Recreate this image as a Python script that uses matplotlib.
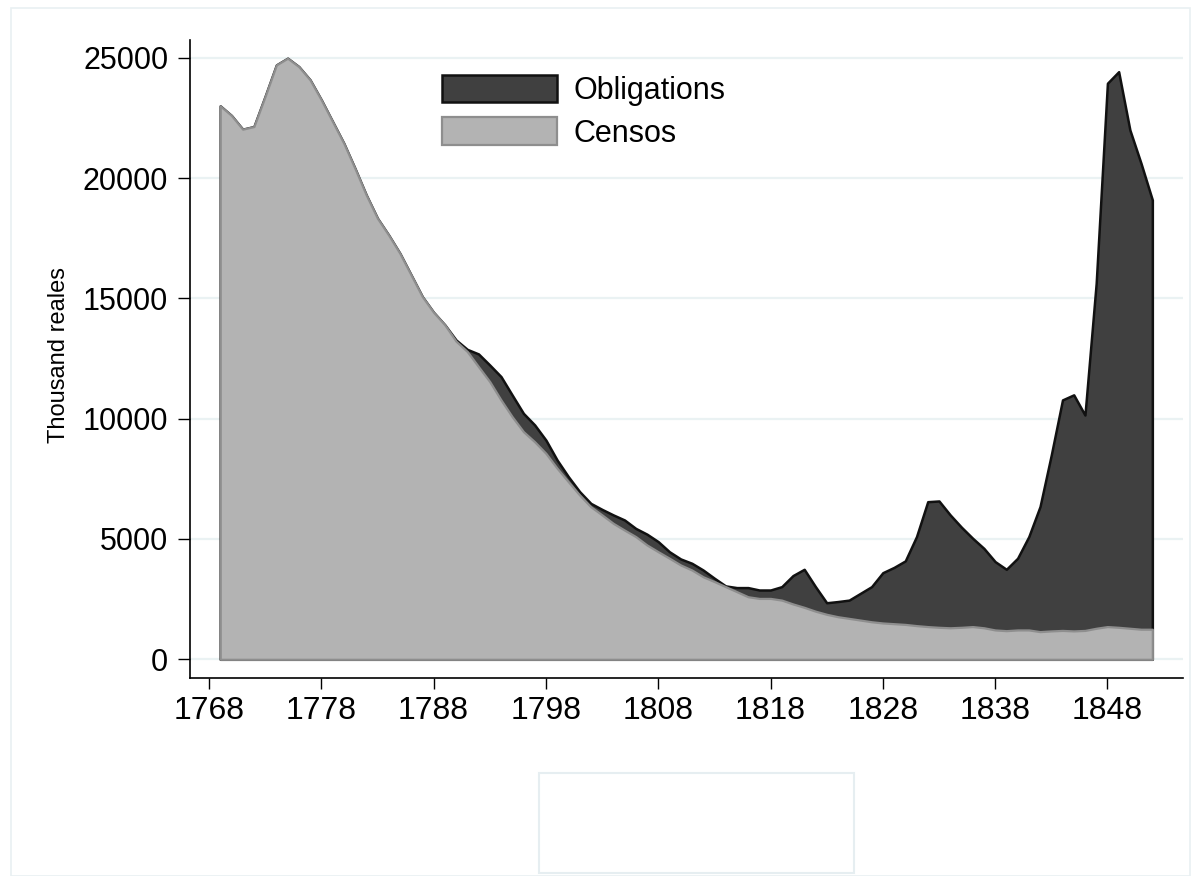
import matplotlib
matplotlib.use("Agg")
import matplotlib.pyplot as plt
from matplotlib.patches import Patch, Rectangle
import numpy as np

plt.rcParams['font.family'] = ['Liberation Sans', 'DejaVu Sans']

years = list(range(1769, 1853))

censos = [23000, 22600, 22030, 22140, 23400, 24700, 24980, 24630, 24080, 23250,
          22350, 21450, 20400, 19300, 18330, 17630, 16870, 15970, 15070, 14420,
          13900, 13220, 12790, 12160, 11540, 10780, 10080, 9460, 9040, 8560,
          7940, 7380, 6830, 6340, 6000, 5650, 5370, 5100, 4750, 4470,
          4200, 3920, 3710, 3430, 3230, 3020, 2810, 2600, 2530, 2530,
          2460, 2300, 2160, 2000, 1870, 1770, 1700, 1630, 1560, 1510,
          1480, 1450, 1400, 1360, 1330, 1310, 1330, 1360, 1310, 1220,
          1190, 1220, 1220, 1150, 1180, 1200, 1180, 1200, 1290, 1360,
          1330, 1290, 1250, 1250]

obligations = [0, 0, 0, 0, 0, 0, 0, 0, 0, 0,
               0, 0, 0, 0, 0, 0, 0, 0, 0, 0,
               0, 50, 90, 530, 690, 970, 900, 760, 700, 550,
               340, 210, 140, 140, 230, 350, 420, 340, 450, 420,
               270, 250, 280, 280, 140, 30, 170, 380, 350, 350,
               560, 1180, 1580, 1020, 480, 630, 760, 1110, 1460, 2090,
               2340, 2640, 3700, 5190, 5250, 4690, 4160, 3670, 3300, 2840,
               2550, 2980, 3880, 5200, 7310, 9580, 9810, 8950, 14340, 22580,
               23090, 20710, 19350, 17840]

series_labels = ["Obligations", "Censos"]
yticks = [0, 5000, 10000, 15000, 20000, 25000]
xticks = [1768, 1778, 1788, 1798, 1808, 1818, 1828, 1838, 1848]

W, H = 1200, 876
fig = plt.figure(figsize=(W / 100, H / 100), dpi=100)
fig.patch.set_facecolor("white")

# faint outer graph-region frame and empty box below
fig.patches.append(Rectangle((11 / W, 0), (1190 - 11) / W, 1 - 8 / H,
                             transform=fig.transFigure, fill=False,
                             edgecolor="#e9f0f2", linewidth=1.2))
fig.patches.append(Rectangle((539 / W, 1 - 873 / H), (854 - 539) / W, (873 - 773) / H,
                             transform=fig.transFigure, fill=False,
                             edgecolor="#e6eef1", linewidth=1.5))

ax = fig.add_axes([190 / W, 1 - 678 / H, (1183 - 190) / W, (678 - 40) / H])

cen = np.array(censos, dtype=float)
obl = np.array(obligations, dtype=float)
total = cen + obl
yrs = np.array(years)

dark = "#404040"
light = "#b3b3b3"
ax.fill_between(yrs, 0, total, facecolor=dark, edgecolor="#111111",
                linewidth=1.8, zorder=3)
ax.fill_between(yrs, 0, cen, facecolor=light, edgecolor="#8e8e8e",
                linewidth=1.6, zorder=4)

ax.set_xlim(1766.31, 1854.73)
ax.set_ylim(-777, 25736)
ax.set_yticks(yticks)
ax.set_yticklabels([str(v) for v in yticks])
ax.set_xticks(xticks)
ax.set_xticklabels([str(v) for v in xticks])

for s in ["top", "right"]:
    ax.spines[s].set_visible(False)
for s in ["left", "bottom"]:
    ax.spines[s].set_linewidth(1.2)
    ax.spines[s].set_color("black")

ax.grid(axis="y", color="#eaf2f3", linewidth=1.6, zorder=0)
ax.set_axisbelow(True)
ax.tick_params(axis="y", length=8.6, width=1.0, pad=7, labelsize=22, direction="out")
ax.tick_params(axis="x", length=8, width=1.0, pad=5, labelsize=23, direction="out")

ax.set_ylabel("Thousand reales", fontsize=17)
ax.yaxis.set_label_coords((70 - 190) / 993, 0.506)

handles = [Patch(facecolor=dark, edgecolor="#111111", linewidth=1.8),
           Patch(facecolor=light, edgecolor="#8e8e8e", linewidth=1.6)]
leg = ax.legend(handles, series_labels, loc="upper left",
                bbox_to_anchor=(442 / W, 1 - 75 / H), bbox_transform=fig.transFigure,
                frameon=False, fontsize=22, handlelength=3.76, handleheight=1.0,
                handletextpad=0.55, labelspacing=0.37, borderpad=0, borderaxespad=0)

fig.savefig("out.png", dpi=100, facecolor="white")
